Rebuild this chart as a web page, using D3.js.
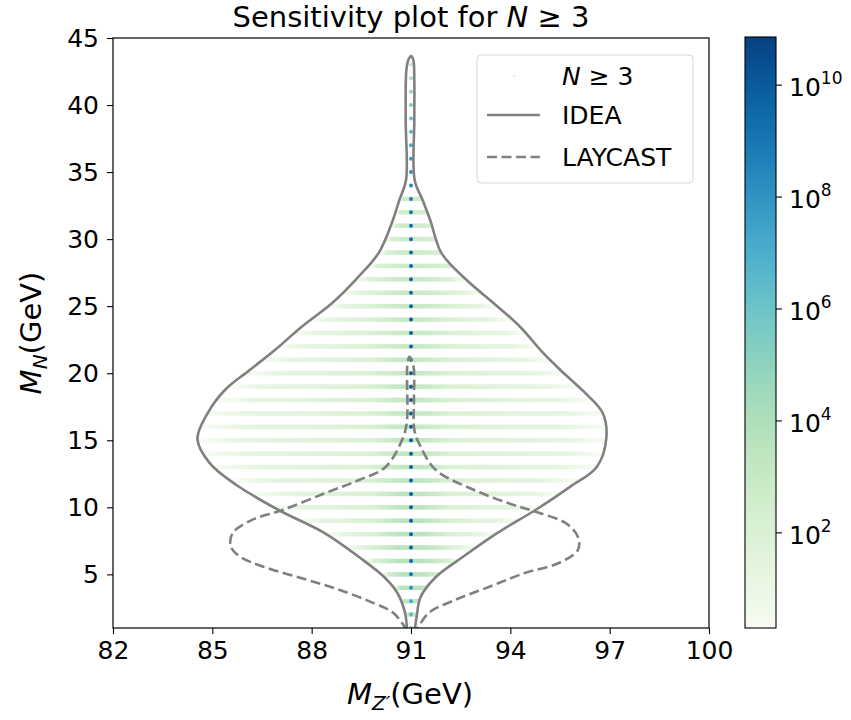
<!DOCTYPE html>
<html>
<head>
<meta charset="utf-8">
<script src="https://cdn.jsdelivr.net/npm/d3@7"></script>
<style>
  body { margin: 0; background: #fff; }
  svg { font-family: "DejaVu Sans", sans-serif; }
</style>
</head>
<body>
<svg id="chart" width="851" height="720"></svg>
<script>
// ---------------- DATA ----------------
const xTicks = [82, 85, 88, 91, 94, 97, 100];
const yTicks = [5, 10, 15, 20, 25, 30, 35, 40, 45];
const cbarTickExp = [2, 4, 6, 8, 10];

// centre dots (M_Z' ~ 91 GeV): heavy-neutrino mass and log10 of the colour value
const dotN   = [1, 2, 3, 4, 5, 6, 7, 8, 9, 10, 11, 12, 13, 14, 15, 16, 17, 18, 19, 20, 21, 22,
                23, 24, 25, 26, 27, 28, 29, 30, 31, 32, 33, 34, 35, 36, 37, 38, 39, 40, 41, 42, 43];
const dotLog = [5.6, 6.6, 7.2, 8.2, 9.0, 9.4, 9.6, 9.7, 9.8, 9.8, 9.8, 9.8, 9.8, 9.8, 9.8, 9.8, 9.8, 9.8, 9.8, 9.8, 9.7, 9.7,
                9.7, 9.7, 9.6, 9.6, 9.5, 9.5, 9.4, 9.3, 9.2, 9.0, 8.8, 8.5, 8.1, 7.7, 7.2, 6.7, 6.1, 5.5, 4.8, 4.0, 3.2];

// horizontal scatter bands: mass, left/right extent in GeV, log10 value at the band centre
const bandN     = [2, 3, 4, 5, 6, 7, 8, 9, 10, 11, 12, 13, 14, 15, 16, 17, 18, 19, 20, 21, 22,
                   23, 24, 25, 26, 27, 28, 29, 30, 31, 32, 33];
const bandLeft  = [90.83, 90.68, 90.46, 90.09, 89.58, 89.04, 88.44, 87.65, 86.86, 86.19, 85.56, 85.07, 84.78, 84.57, 84.70, 84.86,
                   85.15, 85.50, 86.01, 86.52, 87.02, 87.48, 87.98, 88.50, 88.93, 89.34, 89.69, 90.03, 90.21, 90.38, 90.53, 90.66];
const bandRight = [91.18, 91.27, 91.50, 91.86, 92.40, 92.96, 93.55, 94.23, 94.88, 95.48, 96.06, 96.61, 96.76, 96.89, 96.85, 96.79,
                   96.45, 96.05, 95.63, 95.20, 94.81, 94.46, 94.04, 93.60, 93.13, 92.66, 92.29, 91.91, 91.78, 91.64, 91.49, 91.33];
const bandPeakLog = [3.0, 3.3, 3.6, 3.7, 3.7, 3.7, 3.6, 3.6, 3.5, 3.5, 3.4, 3.3, 3.3, 3.3, 3.2, 3.2,
                     3.2, 3.2, 3.1, 3.1, 3.1, 3.0, 3.0, 3.0, 2.9, 2.9, 2.8, 2.8, 2.7, 2.7, 2.6, 2.6];

// IDEA contour (solid)
const ideaX = [90.88, 90.82, 90.59, 90.19, 89.43, 88.39, 87.00, 85.73, 84.92, 84.55, 84.86, 85.38, 86.13, 86.89, 87.69,
               88.62, 89.32, 90.02, 90.42, 90.65, 90.85, 90.84, 90.86, 90.92, 91.00, 91.07, 91.10, 91.10, 91.11, 91.35,
               91.58, 91.92, 92.68, 93.49, 94.30, 94.99, 95.51, 96.26, 96.79, 96.90, 96.61, 95.79, 94.76, 93.60, 92.56,
               91.75, 91.29, 91.17, 91.11];
const ideaY = [0.8, 2.12, 3.61, 4.80, 6.29, 8.08, 9.80, 11.66, 13.30, 15.09, 17.03, 18.75, 20.24, 21.73, 23.45,
               25.24, 26.95, 28.96, 31.20, 32.92, 34.41, 38.88, 42.60, 43.36, 43.65, 43.36, 41.87, 38.88, 34.41, 32.92,
               31.43, 28.96, 26.95, 25.24, 23.45, 21.51, 20.24, 18.53, 17.03, 15.17, 13.01, 11.51, 9.80, 8.08, 6.29,
               4.80, 3.31, 1.82, 0.8];

// LAYCAST contour (dashed)
const laycastX = [90.88, 90.48, 89.89, 88.85, 87.70, 86.54, 85.84, 85.56, 85.61, 86.19, 87.12, 88.39, 89.43, 90.24, 90.77,
                  90.88, 90.88, 90.89, 90.95, 91.07, 91.09, 91.10, 91.29, 91.75, 92.91, 93.95, 94.76, 95.68, 96.04, 96.04,
                  95.45, 94.41, 93.37, 92.33, 91.52, 91.17];
const laycastY = [0.8, 2.10, 2.84, 3.83, 4.71, 5.57, 6.32, 7.06, 8.06, 9.05, 9.80, 11.04, 12.04, 13.03, 15.27,
                  16.51, 19.49, 20.61, 21.23, 20.61, 18.00, 15.77, 14.52, 12.78, 11.29, 10.30, 9.67, 8.81, 7.81, 6.82,
                  5.83, 5.08, 4.08, 3.09, 2.10, 0.8];

const legendLabels = ["IDEA", "LAYCAST"];

// ---------------- DRAW ----------------
const svg = d3.select("#chart");
const L = 113, R = 709, T = 38, B = 628;
const x = d3.scaleLinear().domain([82, 100]).range([L, R]);
const y = d3.scaleLinear().domain([1, 45]).range([B, T]);
const cMin = Math.pow(10, 0.3), cMax = Math.pow(10, 10.86);
const color = d3.scaleSequentialLog(d3.interpolateGnBu).domain([cMin, cMax]);
const cLog = v => color(Math.pow(10, v));

const defs = svg.append("defs");
defs.append("clipPath").attr("id", "plotclip")
  .append("rect").attr("x", L).attr("y", T).attr("width", R - L).attr("height", B - T);

const plot = svg.append("g").attr("clip-path", "url(#plotclip)");

// bands
const bands = bandN.map((n, i) => ({ n, l: bandLeft[i], r: bandRight[i], p: bandPeakLog[i] }));
bands.forEach((b, i) => {
  const x0 = x(b.l), x1 = x(b.r), xc = x(91.0);
  const w = x1 - x0;
  const g = defs.append("linearGradient").attr("id", "band" + i)
    .attr("gradientUnits", "userSpaceOnUse")
    .attr("x1", x0).attr("x2", x1).attr("y1", 0).attr("y2", 0);
  const off = px => Math.max(0, Math.min(1, (px - x0) / w));
  const stops = [
    [0, 0.9, 0.45],
    [off(x0 + (xc - x0) * 0.2), 1.5, 0.9],
    [off(xc - 40), 2.0, 1],
    [off(xc - 10), b.p, 1],
    [off(xc + 10), b.p, 1],
    [off(xc + 40), 2.0, 1],
    [off(x1 - (x1 - xc) * 0.2), 1.5, 0.9],
    [1, 0.9, 0.45]
  ];
  stops.forEach(s => g.append("stop").attr("offset", s[0]).attr("stop-color", cLog(s[1])).attr("stop-opacity", s[2]));
  plot.append("rect")
    .attr("x", x0).attr("y", y(b.n) - 2.3)
    .attr("width", w).attr("height", 4.6)
    .attr("fill", `url(#band${i})`);
});

// centre dots
plot.selectAll("circle.dot").data(dotN.map((n, i) => ({ n, v: dotLog[i] })))
  .enter().append("circle").attr("class", "dot")
  .attr("cx", x(91.0)).attr("cy", d => y(d.n)).attr("r", 2.0)
  .attr("fill", d => cLog(d.v));

// contours
const line = d3.line().x(d => x(d[0])).y(d => y(d[1])).curve(d3.curveCatmullRom.alpha(0.5));
plot.append("path").datum(ideaX.map((v, i) => [v, ideaY[i]]))
  .attr("d", line).attr("fill", "none").attr("stroke", "#808080").attr("stroke-width", 2.6)
  .attr("stroke-linejoin", "round");
plot.append("path").datum(laycastX.map((v, i) => [v, laycastY[i]]))
  .attr("d", line).attr("fill", "none").attr("stroke", "#808080").attr("stroke-width", 2.6)
  .attr("stroke-dasharray", "10,4.5");

// frame
svg.append("rect").attr("x", L).attr("y", T).attr("width", R - L).attr("height", B - T)
  .attr("fill", "none").attr("stroke", "#000").attr("stroke-width", 1.2);

// axes
const fs = 25;
const xAxis = svg.append("g").attr("transform", `translate(0,${B})`)
  .call(d3.axisBottom(x).tickValues(xTicks).tickSize(6).tickPadding(7).tickFormat(d3.format("d")));
const yAxis = svg.append("g").attr("transform", `translate(${L},0)`)
  .call(d3.axisLeft(y).tickValues(yTicks).tickSize(6).tickPadding(8).tickFormat(d3.format("d")));
[xAxis, yAxis].forEach(a => {
  a.select(".domain").remove();
  a.selectAll(".tick line").attr("stroke", "#000").attr("stroke-width", 1.1);
  a.selectAll(".tick text").attr("font-size", fs).attr("fill", "#000").attr("font-family", "DejaVu Sans");
});

// title
const title = svg.append("text").attr("x", 411).attr("y", 27).attr("text-anchor", "middle")
  .attr("font-size", 29).attr("fill", "#000");
title.append("tspan").text("Sensitivity plot for ");
title.append("tspan").attr("font-style", "italic").text("N");
title.append("tspan").text(" ≥ 3");

// x label
const xl = svg.append("text").attr("x", 410).attr("y", 704).attr("text-anchor", "middle")
  .attr("font-size", 29).attr("fill", "#000");
xl.append("tspan").attr("font-style", "italic").text("M");
xl.append("tspan").attr("font-style", "italic").attr("font-size", 20).attr("dy", 6).text("Z′");
xl.append("tspan").attr("dy", -6).text("(GeV)");

// y label
const yl = svg.append("text").attr("transform", `translate(41,${333}) rotate(-90)`)
  .attr("text-anchor", "middle").attr("font-size", 29).attr("fill", "#000");
yl.append("tspan").attr("font-style", "italic").text("M");
yl.append("tspan").attr("font-style", "italic").attr("font-size", 20).attr("dy", 6).text("N");
yl.append("tspan").attr("dy", -6).text("(GeV)");

// legend
const lg = svg.append("g");
lg.append("rect").attr("x", 477).attr("y", 55).attr("width", 216).attr("height", 128).attr("rx", 4)
  .attr("fill", "#fff").attr("fill-opacity", 0.8).attr("stroke", "#d6d6d6").attr("stroke-width", 1);
lg.append("circle").attr("cx", 514).attr("cy", 76).attr("r", 1.6).attr("fill", cLog(1.5));
const lt0 = lg.append("text").attr("x", 562).attr("y", 85).attr("font-size", 25).attr("fill", "#000");
lt0.append("tspan").attr("font-style", "italic").text("N");
lt0.append("tspan").text(" ≥ 3");
lg.append("line").attr("x1", 487).attr("x2", 540).attr("y1", 115).attr("y2", 115)
  .attr("stroke", "#808080").attr("stroke-width", 2.6);
lg.append("text").attr("x", 562).attr("y", 124).attr("font-size", 25).attr("fill", "#000").text(legendLabels[0]);
lg.append("line").attr("x1", 487).attr("x2", 540).attr("y1", 157).attr("y2", 157)
  .attr("stroke", "#808080").attr("stroke-width", 2.6).attr("stroke-dasharray", "10,4.5");
lg.append("text").attr("x", 562).attr("y", 166).attr("font-size", 25).attr("fill", "#000").text(legendLabels[1]);

// colorbar
const cbX = 745, cbW = 31, cbT = 37, cbB = 628;
const cy = d3.scaleLog().domain([cMin, cMax]).range([cbB, cbT]);
const cg = defs.append("linearGradient").attr("id", "cbar").attr("x1", 0).attr("x2", 0).attr("y1", 1).attr("y2", 0);
d3.range(0, 1.0001, 0.05).forEach(t => cg.append("stop").attr("offset", t).attr("stop-color", d3.interpolateGnBu(t)));
svg.append("rect").attr("x", cbX).attr("y", cbT).attr("width", cbW).attr("height", cbB - cbT)
  .attr("fill", "url(#cbar)").attr("stroke", "#000").attr("stroke-width", 1.1);
const cTicks = svg.append("g").selectAll("g").data(cbarTickExp).enter().append("g")
  .attr("transform", d => `translate(${cbX + cbW},${cy(Math.pow(10, d))})`);
cTicks.append("line").attr("x1", 0).attr("x2", 6).attr("stroke", "#000").attr("stroke-width", 1.1);
const ctt = cTicks.append("text").attr("x", 13).attr("y", 11).attr("font-size", 25).attr("fill", "#000");
ctt.append("tspan").text("10");
ctt.append("tspan").attr("font-size", 17).attr("dy", -12).text(d => d);
</script>
</body>
</html>
